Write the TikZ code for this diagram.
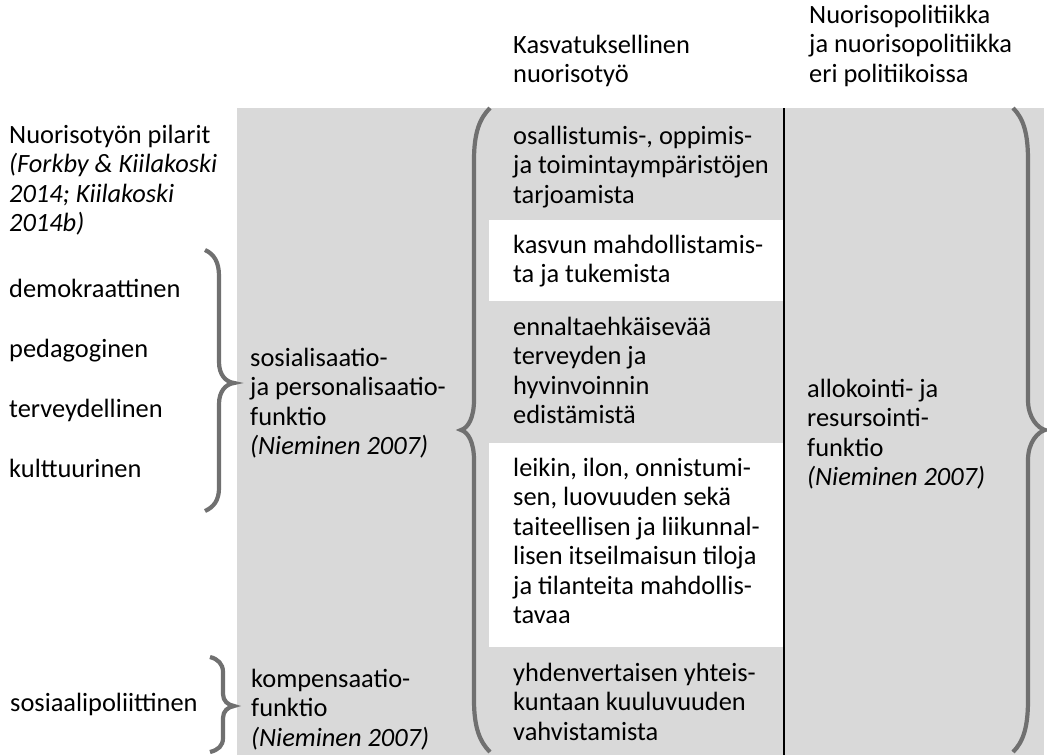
\documentclass[tikz,border=0pt]{standalone}
\usepackage{fontspec}
\setmainfont{Carlito}
\definecolor{greybg}{HTML}{D9D9D9}
\definecolor{braceg}{HTML}{707070}
\newcommand\mlines[1]{\begin{tabular}[t]{@{}l@{}}#1\end{tabular}}
\begin{document}
\begin{tikzpicture}[x=1pt,y=-1pt,
  txt/.style={anchor=base west, inner sep=0pt, font=\fontsize{26.4}{29.5}\selectfont},
  brace/.style={draw=braceg, line width=4.2pt},
  divider/.style={draw=black, line width=1.2pt}]
\useasboundingbox (0,0) rectangle (1047,755);
% backgrounds
\fill[greybg] (237,108) rectangle (1044,755);
\fill[white] (489,220) rectangle (784,301);
\fill[white] (489,443) rectangle (784,647);
\coordinate (divtop) at (784,108);
\coordinate (divbot) at (784,755);
\draw[divider] (divtop) -- (divbot);
% headers
\node[txt] (h3) at (513,53) {\mlines{Kasvatuksellinen\\nuorisotyö}};
\node[txt] (h4) at (809,23) {\mlines{Nuorisopolitiikka\\ja nuorisopolitiikka\\eri politiikoissa}};
% column 1
\node[txt] (pil) at (9,143) {\mlines{Nuorisotyön pilarit\\\textit{(Forkby \& Kiilakoski}\\\textit{2014; Kiilakoski}\\\textit{2014b)}}};
\node[txt] (dem) at (9,297) {demokraattinen};
\node[txt] (ped) at (9,357) {pedagoginen};
\node[txt] (ter) at (9,417) {terveydellinen};
\node[txt] (kul) at (9,477) {kulttuurinen};
\node[txt] (sos) at (10,711) {sosiaalipoliittinen};
% column 2
\node[txt] (sp) at (250,366) {\mlines{sosialisaatio-\\ja personalisaatio-\\funktio\\\textit{(Nieminen 2007)}}};
\node[txt] (komp) at (251,687) {\mlines{kompensaatio-\\funktio\\\textit{(Nieminen 2007)}}};
% column 3
\node[txt] (r1) at (513,144) {\mlines{osallistumis-, oppimis-\\ja toimintaympäristöjen\\tarjoamista}};
\node[txt] (r2) at (513,253) {\mlines{kasvun mahdollistamis-\\ta ja tukemista}};
\node[txt] (r3) at (513,335) {\mlines{ennaltaehkäisevää\\terveyden ja\\hyvinvoinnin\\edistämistä}};
\node[txt] (r4) at (513,476) {\mlines{leikin, ilon, onnistumi-\\sen, luovuuden sekä\\taiteellisen ja liikunnal-\\lisen itseilmaisun tiloja\\ja tilanteita mahdollis-\\tavaa}};
\node[txt] (r5) at (513,681) {\mlines{yhdenvertaisen yhteis-\\kuntaan kuuluvuuden\\vahvistamista}};
% column 4
\node[txt] (alloc) at (807,397) {\mlines{allokointi- ja\\resursointi-\\funktio\\\textit{(Nieminen 2007)}}};
% braces
\draw[brace] (205,250) .. controls (214,254) and (219,262) .. (219,276) -- (219,362)
  .. controls (219,375) and (226,382) .. (234,383)
  .. controls (226,384) and (219,391) .. (219,404) -- (219,488)
  .. controls (219,500) and (214,507) .. (205,511);
\draw[brace] (210,657) .. controls (218,659) and (223,664) .. (223,672) -- (223,694)
  .. controls (223,701) and (228,705) .. (234,706)
  .. controls (228,707) and (223,711) .. (223,718) -- (223,738)
  .. controls (223,746) and (218,750) .. (210,752);
\draw[brace] (490,108) .. controls (480,118) and (474,132) .. (474,160) -- (474,400)
  .. controls (474,418) and (468,428) .. (461,430)
  .. controls (468,432) and (474,442) .. (474,460) -- (474,700)
  .. controls (474,728) and (480,742) .. (490,752);
\draw[brace] (1013,108) .. controls (1023,118) and (1028,132) .. (1028,160) -- (1028,400)
  .. controls (1028,418) and (1038,428) .. (1045,430)
  .. controls (1038,432) and (1028,442) .. (1028,460) -- (1028,700)
  .. controls (1028,728) and (1023,742) .. (1013,752);
\end{tikzpicture}
\end{document}
